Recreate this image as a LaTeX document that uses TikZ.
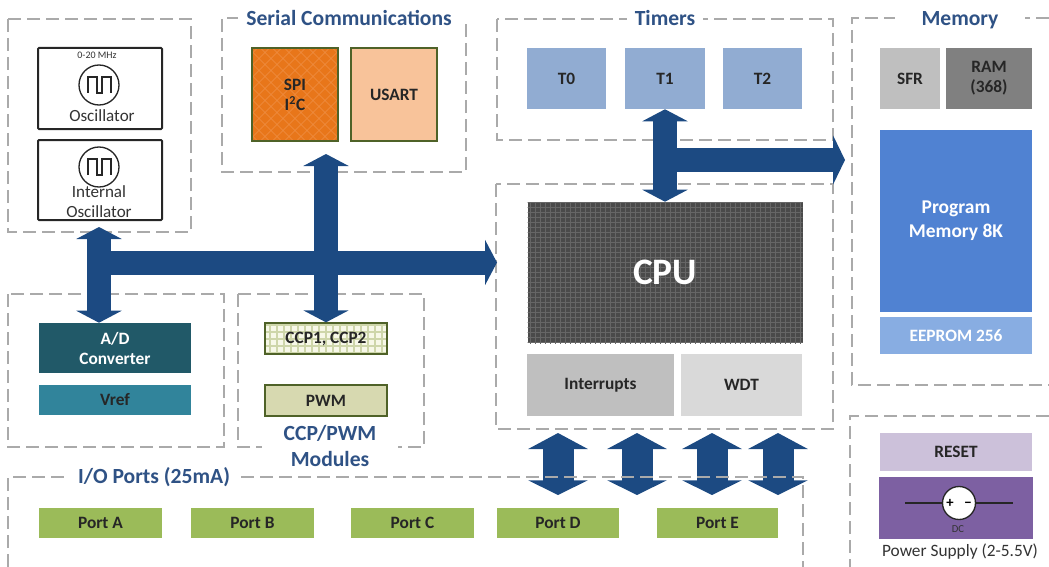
\documentclass[tikz,border=0pt]{standalone}
\usepackage{fontspec}
\setmainfont{Carlito}
\usetikzlibrary{arrows.meta}

\definecolor{busblue}{RGB}{28,74,130}
\definecolor{titleblue}{RGB}{47,82,133}
\definecolor{framegray}{RGB}{170,170,170}
\definecolor{timerblue}{RGB}{145,172,210}
\definecolor{progblue}{RGB}{80,130,210}
\definecolor{eepromblue}{RGB}{136,173,226}
\definecolor{cpugray}{RGB}{74,74,74}
\definecolor{spiorange}{RGB}{232,118,26}
\definecolor{spilight}{RGB}{239,143,70}
\definecolor{usartpeach}{RGB}{248,195,154}
\definecolor{edgegreen}{RGB}{79,98,40}
\definecolor{adcteal}{RGB}{33,89,104}
\definecolor{vrefteal}{RGB}{49,132,155}
\definecolor{ccpcream}{RGB}{247,248,232}
\definecolor{ccpline}{RGB}{206,214,170}
\definecolor{pwmkhaki}{RGB}{215,217,176}
\definecolor{portgreen}{RGB}{155,187,89}
\definecolor{resetlilac}{RGB}{204,193,218}
\definecolor{powerpurple}{RGB}{125,96,162}

\tikzset{
  framebox/.style={draw=framegray,line width=0.85pt,dash pattern=on 9.75pt off 4.5pt},
  grouptitle/.style={fill=white,inner xsep=6pt,inner ysep=2pt,align=center,text=titleblue,font=\fontsize{16.2}{19.5}\selectfont\bfseries},
  blockbox/.style={inner sep=0pt,align=center,text=black!85,font=\fontsize{13}{15}\selectfont\bfseries},
  whitebox/.style={blockbox,text=white},
  plaintext/.style={inner sep=0pt,align=center,text=black!80},
  oscbox/.style={draw=black!85,line width=1.5pt,rounded corners=0.8pt,inner sep=0pt,minimum width=93pt},
  oscline/.style={draw=black!85,line width=1pt},
  bus/.style={draw=busblue,line width=18pt},
  busend/.style={bus,-{Triangle[width=33.75pt,length=9pt]}},
  busboth/.style={bus,{Triangle[width=33.75pt,length=9pt]}-{Triangle[width=33.75pt,length=9pt]}},
  portbus/.style={draw=busblue,line width=23.25pt,{Triangle[width=44.25pt,length=12pt]}-{Triangle[width=44.25pt,length=11pt]}},
  spihatch/.style={path picture={
    \foreach \i in {-96,-84,...,96} {
      \draw [spilight,line width=0.4pt] ([shift={(\i,0)}]path picture bounding box.center) -- +(100,100);
      \draw [spilight,line width=0.4pt] ([shift={(\i,0)}]path picture bounding box.center) -- +(-100,-100);
      \draw [spilight,line width=0.4pt] ([shift={(\i,0)}]path picture bounding box.center) -- +(100,-100);
      \draw [spilight,line width=0.4pt] ([shift={(\i,0)}]path picture bounding box.center) -- +(-100,100);
    }}},
  cpugrid/.style={path picture={
    \foreach \i in {-140,-135,...,140} {
      \draw [black!60,line width=0.4pt] ([shift={(\i,-80)}]path picture bounding box.center) -- +(0,160);
    }
    \foreach \i in {-70,-65,...,70} {
      \draw [black!60,line width=0.4pt] ([shift={(-140,\i)}]path picture bounding box.center) -- +(280,0);
    }}},
  ccpgrid/.style={path picture={
    \foreach \i in {-63,-56,...,63} {
      \draw [ccpline,line width=1.5pt] ([shift={(\i,-20)}]path picture bounding box.center) -- +(0,40);
    }
    \foreach \i in {-14,-7,...,14} {
      \draw [ccpline,line width=1.5pt] ([shift={(-63,\i)}]path picture bounding box.center) -- +(126,0);
    }}}
}

\begin{document}
\begin{tikzpicture}[x=0.75pt,y=0.75pt,yscale=-1,xscale=1]
\useasboundingbox (0,0) rectangle (1049,567);

%Shape: Dashed Frames
\draw [framebox] (8,19) rectangle (191,232);
\draw [framebox] (240,18) -| (222,172) -| (466,18);
\draw [framebox] (497,19) rectangle (833,140);
\draw [framebox] (496,184) rectangle (833,429);
\draw [framebox] (8,294) rectangle (224,447);
\draw [framebox] (238,294) rectangle (424,447);
\draw [framebox] (1049,18) -| (852,385) -- (1049,385);
\draw [framebox] (1049,416) -| (850,567);

%Shape: Oscillator Boxes
\node (osc) [oscbox,minimum height=60.75pt] at (100,88.5) {};
\node (intosc) [oscbox,minimum height=60pt] at (100,180) {};
\draw [oscline] (99,85) circle [radius=20];
\draw [oscline] (99,167) circle [radius=20];
\draw [oscline] (88,93) -- (88,77) -- (97,77) -- (97,93) -- (102,93) -- (102,77) -- (111,77) -- (111,93);
\draw [oscline] (88,175) -- (88,159) -- (97,159) -- (97,175) -- (102,175) -- (102,159) -- (111,159) -- (111,175);

% Text Node
\node (oscfreq) [plaintext,font=\fontsize{7.5}{9}\selectfont] at (97,55) {0-20 MHz};
\node (osclabel) [plaintext,font=\fontsize{12.8}{15}\selectfont] at (102,116) {Oscillator};
\node (intlabel) [plaintext,font=\fontsize{12.8}{15.5}\selectfont] at (99,201.5) {Internal\\Oscillator};

%Shape: Serial Blocks
\node (spi) [blockbox,draw=edgegreen,line width=1pt,fill=spiorange,spihatch,minimum width=64.5pt,minimum height=69.75pt] at (295,94.5) {SPI\\I\textsuperscript{2}C};
\node (usart) [blockbox,draw=edgegreen,line width=1pt,fill=usartpeach,minimum width=64.5pt,minimum height=69.75pt] at (394,94.5) {USART};

%Shape: Timer Blocks
\node (t0) [blockbox,fill=timerblue,minimum width=59.25pt,minimum height=45.75pt] at (566.5,78.5) {T0};
\node (t1) [blockbox,fill=timerblue,minimum width=60pt,minimum height=45.75pt] at (665,78.5) {T1};
\node (t2) [blockbox,fill=timerblue,minimum width=59.25pt,minimum height=45.75pt] at (762.5,78.5) {T2};

%Shape: Memory Blocks
\node (sfr) [blockbox,fill=black!25,minimum width=45pt,minimum height=45.75pt] at (910,78.5) {SFR};
\node (ram) [blockbox,fill=black!50,minimum width=64.5pt,minimum height=45.75pt] at (989,78.5) {RAM\\(368)};
\node (prog) [whitebox,fill=progblue,minimum width=114pt,minimum height=136.5pt,font=\fontsize{14.6}{18}\selectfont\bfseries] at (956,221) {Program\\Memory 8K};
\node (eeprom) [whitebox,fill=eepromblue,minimum width=114pt,minimum height=27.75pt] at (956,335.5) {EEPROM 256};

%Shape: CPU Blocks
\node (cpu) [whitebox,fill=cpugray,cpugrid,minimum width=206.25pt,minimum height=105.75pt,font=\fontsize{28}{30}\selectfont\bfseries] at (665,272.5) {CPU};
\node (irq) [blockbox,fill=black!25,minimum width=110.25pt,minimum height=46.5pt] at (600.5,385) {Interrupts};
\node (wdt) [blockbox,fill=black!15,minimum width=90.75pt,minimum height=46.5pt] at (741.5,385) {WDT};

%Shape: Converter Blocks
\node (adc) [whitebox,fill=adcteal,minimum width=114pt,minimum height=37.5pt] at (115,348) {A/D\\Converter};
\node (vref) [blockbox,fill=vrefteal,minimum width=114pt,minimum height=22.5pt] at (115,400) {Vref};

%Shape: CCP Blocks
\node (ccp) [blockbox,draw=edgegreen,line width=1pt,fill=ccpcream,ccpgrid,minimum width=91.5pt,minimum height=23.25pt] at (326,338.5) {CCP1, CCP2};
\node (pwm) [blockbox,draw=edgegreen,line width=1pt,fill=pwmkhaki,minimum width=91.5pt,minimum height=23.25pt] at (326,400.5) {PWM};

%Shape: Port Blocks
\node (porta) [blockbox,fill=portgreen,minimum width=92.25pt,minimum height=22.5pt] at (100.5,523) {Port A};
\node (portb) [blockbox,fill=portgreen,minimum width=92.25pt,minimum height=22.5pt] at (252.5,523) {Port B};
\node (portc) [blockbox,fill=portgreen,minimum width=92.25pt,minimum height=22.5pt] at (412.5,523) {Port C};
\node (portd) [blockbox,fill=portgreen,minimum width=91.5pt,minimum height=22.5pt] at (558,523) {Port D};
\node (porte) [blockbox,fill=portgreen,minimum width=90.75pt,minimum height=22.5pt] at (717.5,523) {Port E};

%Shape: Reset And Power
\node (reset) [blockbox,fill=resetlilac,minimum width=114pt,minimum height=28.5pt] at (956,452) {RESET};
\node (power) [fill=powerpurple,inner sep=0pt,minimum width=115.5pt,minimum height=46.5pt] at (956,508) {};
\node (dcsource) [circle,draw=black!85,line width=1pt,fill=white,inner sep=0pt,minimum size=24.75pt,font=\fontsize{11}{11}\selectfont\bfseries] at (959,503) {+\hspace{8pt}−};
\coordinate (dcleft) at (905,503);
\coordinate (dcright) at (1013,503);
\draw [black!85,line width=1pt] (dcleft) -- (dcsource);
\draw [black!85,line width=1pt] (dcsource) -- (dcright);

% Text Node
\node (dclabel) [plaintext,text=black!80,font=\fontsize{8}{9}\selectfont] at (958,529) {DC};
\node (powerlabel) [plaintext,font=\fontsize{13}{15}\selectfont] at (960,552) {Power Supply (2-5.5V)};

%Straight Lines
\coordinate (oscbus) at (99,227);
\coordinate (serialbus) at (326,154);
\coordinate (cpubus) at (497,262.5);
\coordinate (membus) at (845,160);
\draw [busboth] (oscbus) -- (oscbus |- adc.north);
\draw [busboth] (serialbus) -- (ccp.north);
\draw [busend] (oscbus |- cpubus) -- (cpubus);
\draw [busboth] (t1.south) -- (t1.south |- cpu.north);
\draw [bus,-{Triangle[width=36.75pt,length=9pt]}] (t1.south |- membus) -- (membus);

\coordinate (cputopa) at (558,433);
\coordinate (cputopb) at (637,433);
\coordinate (cputopc) at (712,433);
\coordinate (cputopd) at (778,433);
\coordinate (portbota) at (558,495);
\coordinate (portbotb) at (637,495);
\coordinate (portbotc) at (712,495);
\coordinate (portbotd) at (778,495);
\foreach \n in {a,b,c,d} {
  \draw [portbus] (cputop\n) -- (portbot\n);
}

%Shape: I/O Frame
\draw [framebox] (8,567) |- (803,477) -- (803,567);

% Text Node
\node (serialtitle) [grouptitle] at (349,18) {Serial Communications};
\node (timertitle) [grouptitle] at (665,18) {Timers};
\node (memtitle) [grouptitle,inner xsep=20pt] at (960,20) {Memory};
\node (iotitle) [grouptitle] at (154,477) {I/O Ports (25mA)};
\node (ccptitle) [grouptitle,inner xsep=16pt] at (330,446) {CCP/PWM\\Modules};

\end{tikzpicture}
\end{document}
